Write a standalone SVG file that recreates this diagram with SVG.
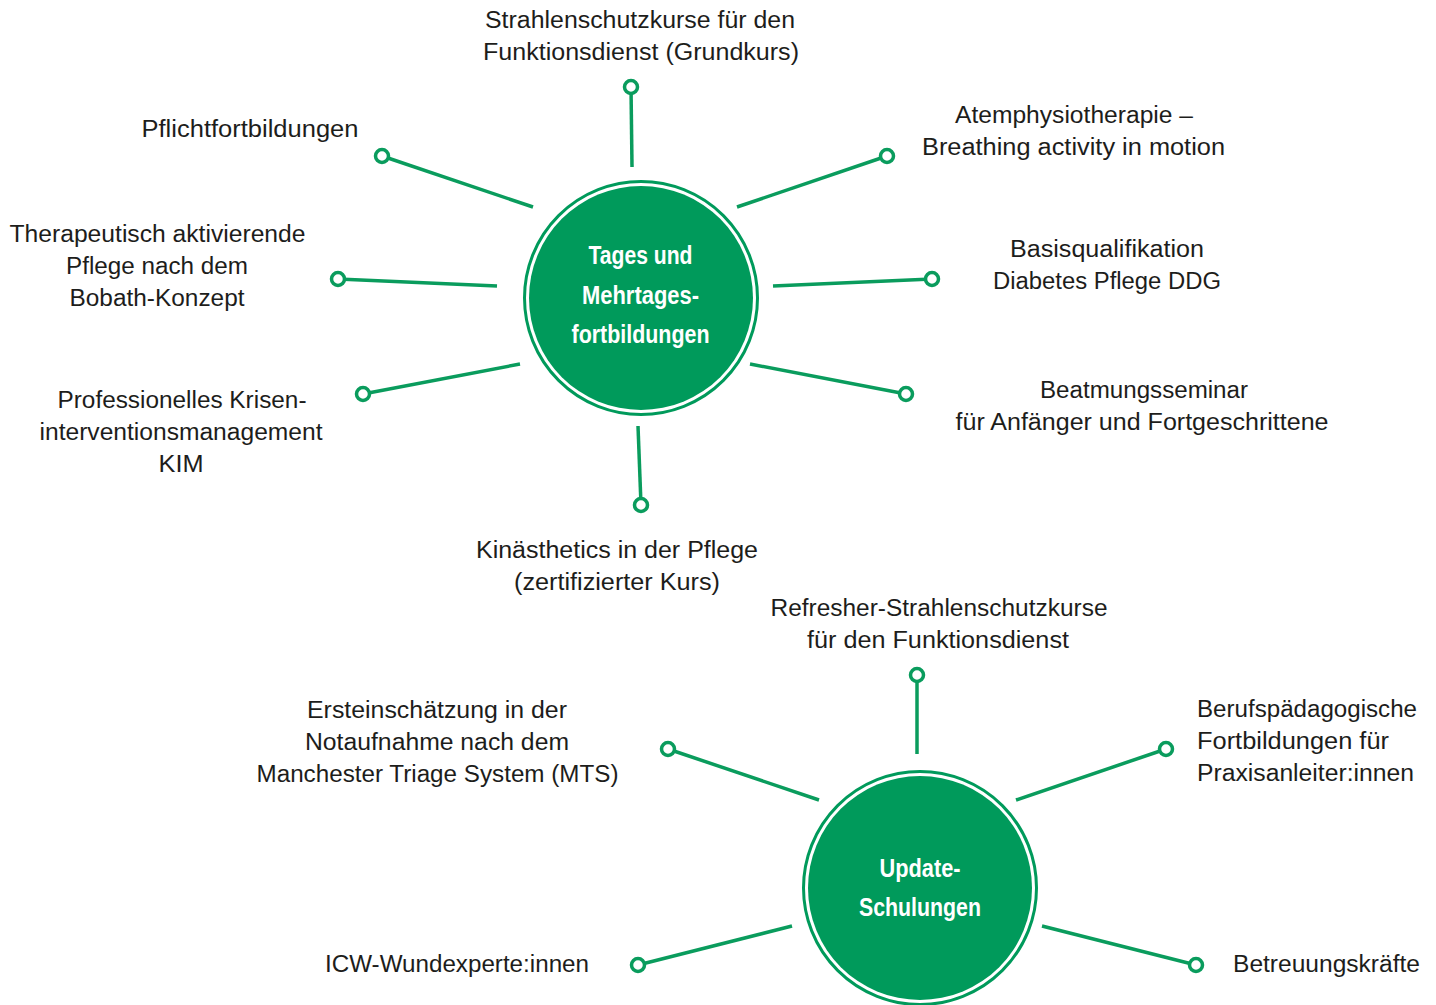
<svg xmlns="http://www.w3.org/2000/svg" width="1436" height="1005" viewBox="0 0 1436 1005">
<style>
.lbl{font-family:"Liberation Sans",Arial,sans-serif;font-size:23px;fill:#1d1d1b;}
.hub{font-family:"Liberation Sans",Arial,sans-serif;font-size:25px;font-weight:bold;fill:#ffffff;}
.ln{stroke:#0a9c5d;stroke-width:3.5;fill:none;stroke-linecap:butt;}
.dot{stroke:#0a9c5d;stroke-width:3.5;fill:#ffffff;}
.ring{fill:none;stroke:#009a5b;stroke-width:3;}
.core{fill:#009a5b;}
</style>
<rect width="1436" height="1005" fill="#ffffff"/>
<g id="connectors">
<line class="ln" x1="632" y1="167" x2="631" y2="87"/>
<line class="ln" x1="533" y1="207" x2="382" y2="156"/>
<line class="ln" x1="497" y1="286" x2="338" y2="279"/>
<line class="ln" x1="520" y1="364" x2="363" y2="394"/>
<line class="ln" x1="638" y1="426" x2="641" y2="505"/>
<line class="ln" x1="737" y1="207" x2="887" y2="156"/>
<line class="ln" x1="773" y1="286" x2="932" y2="279"/>
<line class="ln" x1="750" y1="364" x2="906" y2="394"/>
<line class="ln" x1="917" y1="754" x2="917" y2="675"/>
<line class="ln" x1="819" y1="800" x2="668" y2="749"/>
<line class="ln" x1="1016" y1="800" x2="1166" y2="749"/>
<line class="ln" x1="792" y1="926" x2="638" y2="965"/>
<line class="ln" x1="1042" y1="926" x2="1196" y2="965"/>
<circle class="dot" cx="631" cy="87" r="6.5"/>
<circle class="dot" cx="382" cy="156" r="6.5"/>
<circle class="dot" cx="338" cy="279" r="6.5"/>
<circle class="dot" cx="363" cy="394" r="6.5"/>
<circle class="dot" cx="641" cy="505" r="6.5"/>
<circle class="dot" cx="887" cy="156" r="6.5"/>
<circle class="dot" cx="932" cy="279" r="6.5"/>
<circle class="dot" cx="906" cy="394" r="6.5"/>
<circle class="dot" cx="917" cy="675" r="6.5"/>
<circle class="dot" cx="668" cy="749" r="6.5"/>
<circle class="dot" cx="1166" cy="749" r="6.5"/>
<circle class="dot" cx="638" cy="965" r="6.5"/>
<circle class="dot" cx="1196" cy="965" r="6.5"/>
</g>
<g id="hub1">
<circle class="ring" cx="641" cy="298" r="116.5"/>
<circle class="core" cx="641" cy="298" r="112"/>
<text class="hub" x="640.5" y="264" text-anchor="middle" textLength="104" lengthAdjust="spacingAndGlyphs">Tages und</text>
<text class="hub" x="640.5" y="304" text-anchor="middle" textLength="117" lengthAdjust="spacingAndGlyphs">Mehrtages-</text>
<text class="hub" x="640.5" y="343" text-anchor="middle" textLength="138" lengthAdjust="spacingAndGlyphs">fortbildungen</text>
</g>
<g id="hub2">
<circle class="ring" cx="920" cy="888" r="116.5"/>
<circle class="core" cx="920" cy="888" r="112"/>
<text class="hub" x="920" y="877" text-anchor="middle" textLength="81" lengthAdjust="spacingAndGlyphs">Update-</text>
<text class="hub" x="920" y="916" text-anchor="middle" textLength="122" lengthAdjust="spacingAndGlyphs">Schulungen</text>
</g>
<g id="n-strahlenschutz">
<text class="lbl" x="640" y="28" text-anchor="middle" textLength="310" lengthAdjust="spacingAndGlyphs">Strahlenschutzkurse für den</text>
<text class="lbl" x="641" y="60" text-anchor="middle" textLength="316" lengthAdjust="spacingAndGlyphs">Funktionsdienst (Grundkurs)</text>
</g>
<g id="n-pflicht">
<text class="lbl" x="250" y="137" text-anchor="middle" textLength="217" lengthAdjust="spacingAndGlyphs">Pflichtfortbildungen</text>
</g>
<g id="n-bobath">
<text class="lbl" x="157.5" y="242" text-anchor="middle" textLength="296" lengthAdjust="spacingAndGlyphs">Therapeutisch aktivierende</text>
<text class="lbl" x="157" y="274" text-anchor="middle" textLength="182" lengthAdjust="spacingAndGlyphs">Pflege nach dem</text>
<text class="lbl" x="157" y="306" text-anchor="middle" textLength="175" lengthAdjust="spacingAndGlyphs">Bobath-Konzept</text>
</g>
<g id="n-kim">
<text class="lbl" x="182" y="408" text-anchor="middle" textLength="249" lengthAdjust="spacingAndGlyphs">Professionelles Krisen-</text>
<text class="lbl" x="181" y="440" text-anchor="middle" textLength="283" lengthAdjust="spacingAndGlyphs">interventionsmanagement</text>
<text class="lbl" x="181" y="472" text-anchor="middle" textLength="45" lengthAdjust="spacingAndGlyphs">KIM</text>
</g>
<g id="n-kinaesthetics">
<text class="lbl" x="617" y="558" text-anchor="middle" textLength="282" lengthAdjust="spacingAndGlyphs">Kinästhetics in der Pflege</text>
<text class="lbl" x="617" y="590" text-anchor="middle" textLength="206" lengthAdjust="spacingAndGlyphs">(zertifizierter Kurs)</text>
</g>
<g id="n-atem">
<text class="lbl" x="1074" y="123" text-anchor="middle" textLength="238" lengthAdjust="spacingAndGlyphs">Atemphysiotherapie –</text>
<text class="lbl" x="1073.5" y="155" text-anchor="middle" textLength="303" lengthAdjust="spacingAndGlyphs">Breathing activity in motion</text>
</g>
<g id="n-diabetes">
<text class="lbl" x="1107" y="257" text-anchor="middle" textLength="194" lengthAdjust="spacingAndGlyphs">Basisqualifikation</text>
<text class="lbl" x="1107" y="289" text-anchor="middle" textLength="228" lengthAdjust="spacingAndGlyphs">Diabetes Pflege DDG</text>
</g>
<g id="n-beatmung">
<text class="lbl" x="1144" y="398" text-anchor="middle" textLength="208" lengthAdjust="spacingAndGlyphs">Beatmungsseminar</text>
<text class="lbl" x="1142" y="430" text-anchor="middle" textLength="373" lengthAdjust="spacingAndGlyphs">für Anfänger und Fortgeschrittene</text>
</g>
<g id="n-refresher">
<text class="lbl" x="939" y="616" text-anchor="middle" textLength="337" lengthAdjust="spacingAndGlyphs">Refresher-Strahlenschutzkurse</text>
<text class="lbl" x="938" y="648" text-anchor="middle" textLength="262" lengthAdjust="spacingAndGlyphs">für den Funktionsdienst</text>
</g>
<g id="n-mts">
<text class="lbl" x="437" y="718" text-anchor="middle" textLength="260" lengthAdjust="spacingAndGlyphs">Ersteinschätzung in der</text>
<text class="lbl" x="437" y="750" text-anchor="middle" textLength="264" lengthAdjust="spacingAndGlyphs">Notaufnahme nach dem</text>
<text class="lbl" x="437.5" y="782" text-anchor="middle" textLength="362" lengthAdjust="spacingAndGlyphs">Manchester Triage System (MTS)</text>
</g>
<g id="n-praxisanleiter">
<text class="lbl" x="1197" y="717" textLength="220" lengthAdjust="spacingAndGlyphs">Berufspädagogische</text>
<text class="lbl" x="1197" y="749" textLength="192" lengthAdjust="spacingAndGlyphs">Fortbildungen für</text>
<text class="lbl" x="1197" y="781" textLength="217" lengthAdjust="spacingAndGlyphs">Praxisanleiter:innen</text>
</g>
<g id="n-icw">
<text class="lbl" x="325" y="972" textLength="264" lengthAdjust="spacingAndGlyphs">ICW-Wundexperte:innen</text>
</g>
<g id="n-betreuung">
<text class="lbl" x="1233" y="972" textLength="187" lengthAdjust="spacingAndGlyphs">Betreuungskräfte</text>
</g>
</svg>
